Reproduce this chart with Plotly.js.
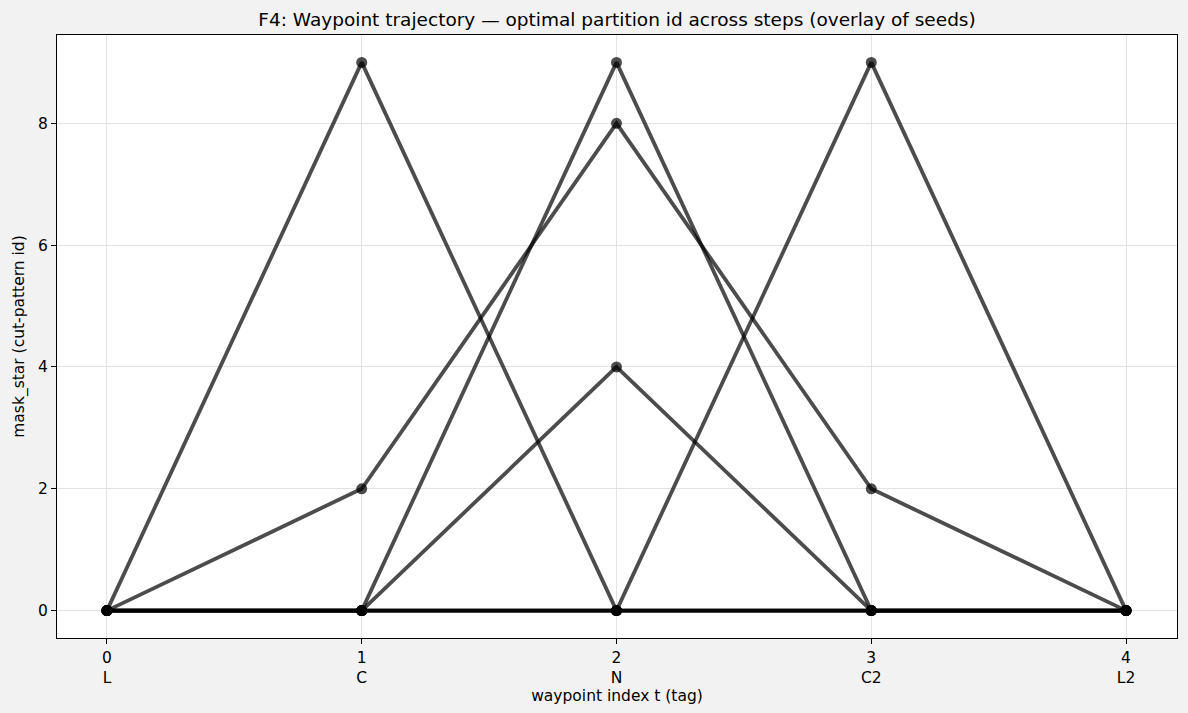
<!DOCTYPE html>
<html><head><meta charset="utf-8">
<script src="https://cdn.plot.ly/plotly-3.0.1.min.js"></script>
<style>html,body{margin:0;padding:0;background:#f2f2f2;}#chart{width:1188px;height:713px;}</style>
</head><body><div id="chart"></div>
<script>
const steps = [0, 1, 2, 3, 4];
const tags = ["L", "C", "N", "C2", "L2"];
const seedA = [0, 9, 0, 0, 0];
const seedB = [0, 2, 8, 2, 0];
const seedC = [0, 0, 9, 0, 0];
const seedD = [0, 0, 4, 0, 0];
const seedE = [0, 0, 0, 9, 0];
const seedF = [0, 0, 0, 0, 0];
const seedG = [0, 0, 0, 0, 0];
const seeds = [seedA, seedB, seedC, seedD, seedE, seedF, seedG];

const traces = seeds.map(s => ({
  x: steps, y: s, type: 'scatter', mode: 'lines+markers',
  line: {color: 'rgba(0,0,0,0.7)', width: 3.8},
  marker: {color: 'rgba(0,0,0,0.7)', size: 11},
  showlegend: false, hoverinfo: 'skip'
}));

const layout = {
  width: 1188, height: 713,
  paper_bgcolor: '#f2f2f2', plot_bgcolor: '#ffffff',
  font: {family: 'DejaVu Sans', size: 15.5, color: '#000'},
  margin: {l: 57, r: 11, t: 35, b: 75},
  title: {text: 'F4: Waypoint trajectory — optimal partition id across steps (overlay of seeds)', font: {size: 18.5, family: 'DejaVu Sans'}, x: 0.5, xref: 'paper', xanchor: 'center', y: 0.972, yanchor: 'middle'},
  xaxis: {
    range: [-0.196, 4.2], tickvals: steps,
    ticktext: steps.map((s, i) => s + '<br>' + tags[i]),
    showgrid: true, gridcolor: '#e3e3e3', zeroline: false,
    showline: true, mirror: true, linecolor: '#000', linewidth: 1,
    ticks: 'outside', ticklen: 5, tickcolor: '#000',
    title: {text: 'waypoint index t (tag)', font: {size: 15.5}, standoff: 4}
  },
  yaxis: {
    range: [-0.45, 9.45], tickvals: [0, 2, 4, 6, 8],
    showgrid: true, gridcolor: '#e3e3e3', zeroline: false,
    showline: true, mirror: true, linecolor: '#000', linewidth: 1,
    ticks: 'outside', ticklen: 5, tickcolor: '#000',
    title: {text: 'mask_star (cut-pattern id)', font: {size: 15.5}, standoff: 9}
  }
};
Plotly.newPlot('chart', traces, layout, {displayModeBar: false});
</script></body></html>
